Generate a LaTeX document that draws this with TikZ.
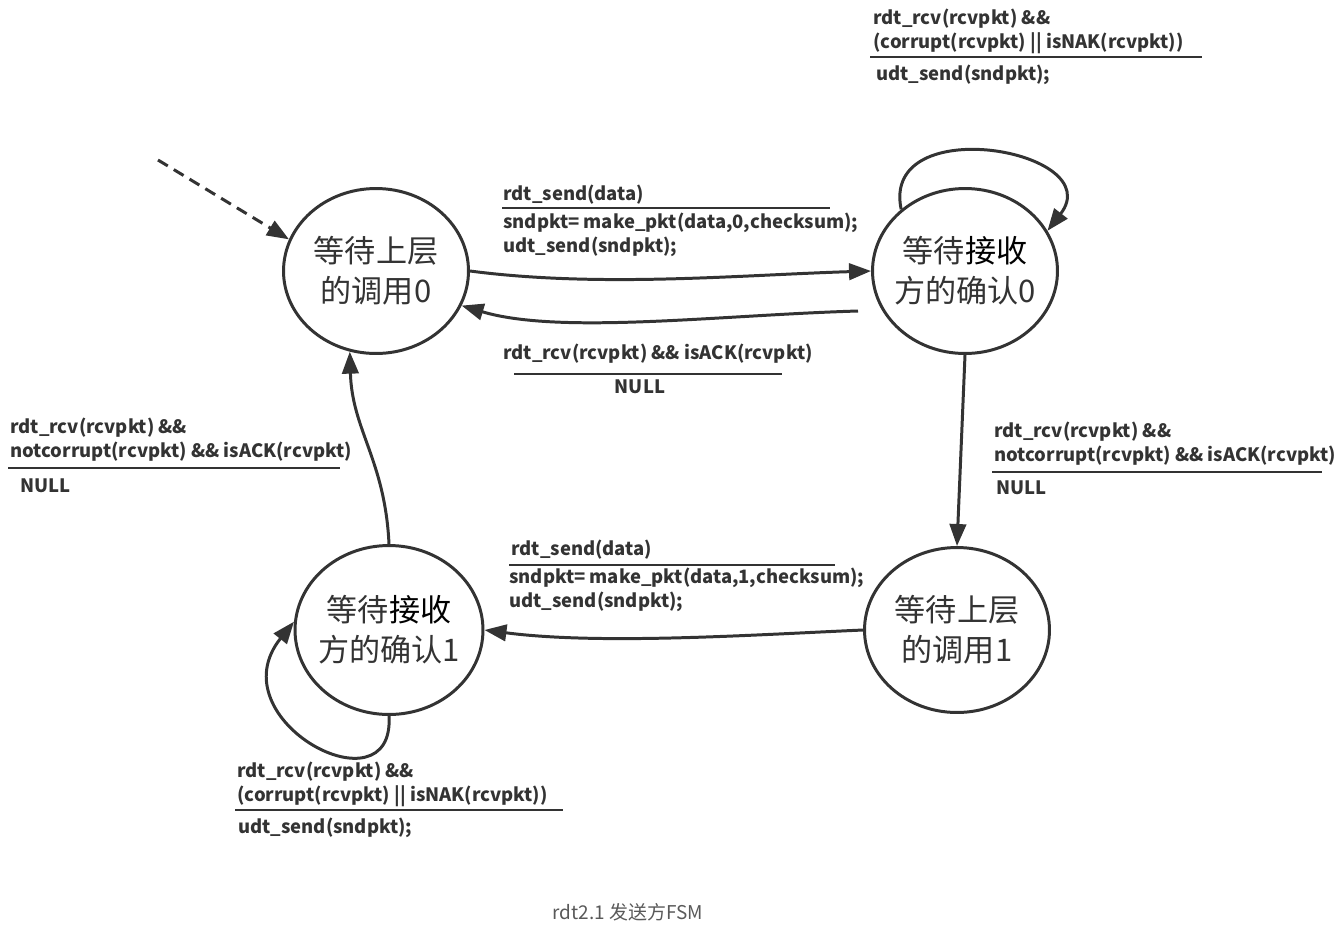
\documentclass[tikz,border=0pt]{standalone}
\usepackage{fontspec}
\setmainfont{Noto Sans CJK SC}
\usetikzlibrary{arrows.meta,calc,shapes.geometric}
\definecolor{inkc}{HTML}{333333}
\definecolor{capc}{HTML}{595959}

\tikzset{
	state/.style={draw=inkc, line width=1.7pt, ellipse, minimum width=3.7cm, minimum height=3.3cm, inner sep=-8pt, align=center, text=inkc, font=\fontsize{17.7}{22.7}\selectfont},
	trans/.style={draw=inkc, line width=1.7pt, -{Triangle[length=4.4mm,width=3.3mm]}},
	lbl/.style={inner sep=0pt, anchor=base west, align=left, text=inkc, font=\bfseries\fontsize{10.5}{13.6}\selectfont},
	rule/.style={draw=inkc, line width=0.7pt}
}

\begin{document}
\begin{tikzpicture}[x=0.02cm,y=-0.02cm]
\useasboundingbox (0,0) rectangle (1342,927);

\node[state] (S0) at (376,271) {等待上层\\的调用0};
\node[state] (S1) at (965,271) {等待{\color{black}接收}\\方的确认0};
\node[state] (S2) at (957,630) {等待上层\\的调用1};
\node[state, minimum width=3.76cm, minimum height=3.38cm] (S3) at (389,630) {等待{\color{black}接收}\\方的确认1};

\coordinate (init) at (158,160);
\coordinate (ack0) at (858,311);

\draw[trans, dash pattern=on 6.5pt off 4pt] (init) -- (S0.160);
\draw[trans] (S0.east) .. controls (600,288) and (740,275) .. (S1.west);
\draw[trans] (ack0) .. controls (720,315) and (560,335) .. (S0.-22);
\draw[trans] (S1.south) -- (S2.north);
\draw[trans] (S2.west) .. controls (750,635) and (600,645) .. (S3.east);
\draw[trans] (S3.north) .. controls (385,460) and (352,430) .. (S0.-108);
\draw[trans] (S1.136) .. controls (880,110) and (1110,150) .. (S1.26);
\draw[trans] (S3.south) .. controls (395,815) and (215,720) .. (S3.175);

% labels (base = last line)
\node[lbl] (t1a) at (873,48) {rdt\_rcv(rcvpkt) \&\&\\(corrupt(rcvpkt) || isNAK(rcvpkt))};
\node[lbl] (t1b) at (876,80) {udt\_send(sndpkt);};
\draw[rule] (870,57) -- (1202,57);

\node[lbl] (t2a) at (503,200) {rdt\_send(data)};
\node[lbl] (t2b) at (503,252) {sndpkt= make\_pkt(data,0,checksum);\\udt\_send(sndpkt);};
\draw[rule] (502,208) -- (830,208);

\node[lbl] (t3a) at (503,359) {rdt\_rcv(rcvpkt) \&\& isACK(rcvpkt)};
\node[lbl, anchor=base] (t3b) at (640,393) {NULL};
\draw[rule] (514,374) -- (782,374);

\node[lbl] (t4a) at (10,457) {rdt\_rcv(rcvpkt) \&\&\\notcorrupt(rcvpkt) \&\& isACK(rcvpkt)};
\node[lbl] (t4b) at (20,492) {NULL};
\draw[rule] (8,468) -- (340,468);

\node[lbl] (t5a) at (994,461) {rdt\_rcv(rcvpkt) \&\&\\notcorrupt(rcvpkt) \&\& isACK(rcvpkt)};
\node[lbl] (t5b) at (996,494) {NULL};
\draw[rule] (992,472) -- (1322,472);

\node[lbl] (t6a) at (511,555) {rdt\_send(data)};
\node[lbl] (t6b) at (509,607) {sndpkt= make\_pkt(data,1,checksum);\\udt\_send(sndpkt);};
\draw[rule] (509,565) -- (835,565);

\node[lbl] (t7a) at (237,801) {rdt\_rcv(rcvpkt) \&\&\\(corrupt(rcvpkt) || isNAK(rcvpkt))};
\node[lbl] (t7b) at (238,833) {udt\_send(sndpkt);};
\draw[rule] (235,810) -- (563,810);

\node[inner sep=0pt, text=capc, font=\fontsize{10.8}{13}\selectfont] (cap) at (628,912) {rdt2.1 发送方FSM};
\end{tikzpicture}
\end{document}
